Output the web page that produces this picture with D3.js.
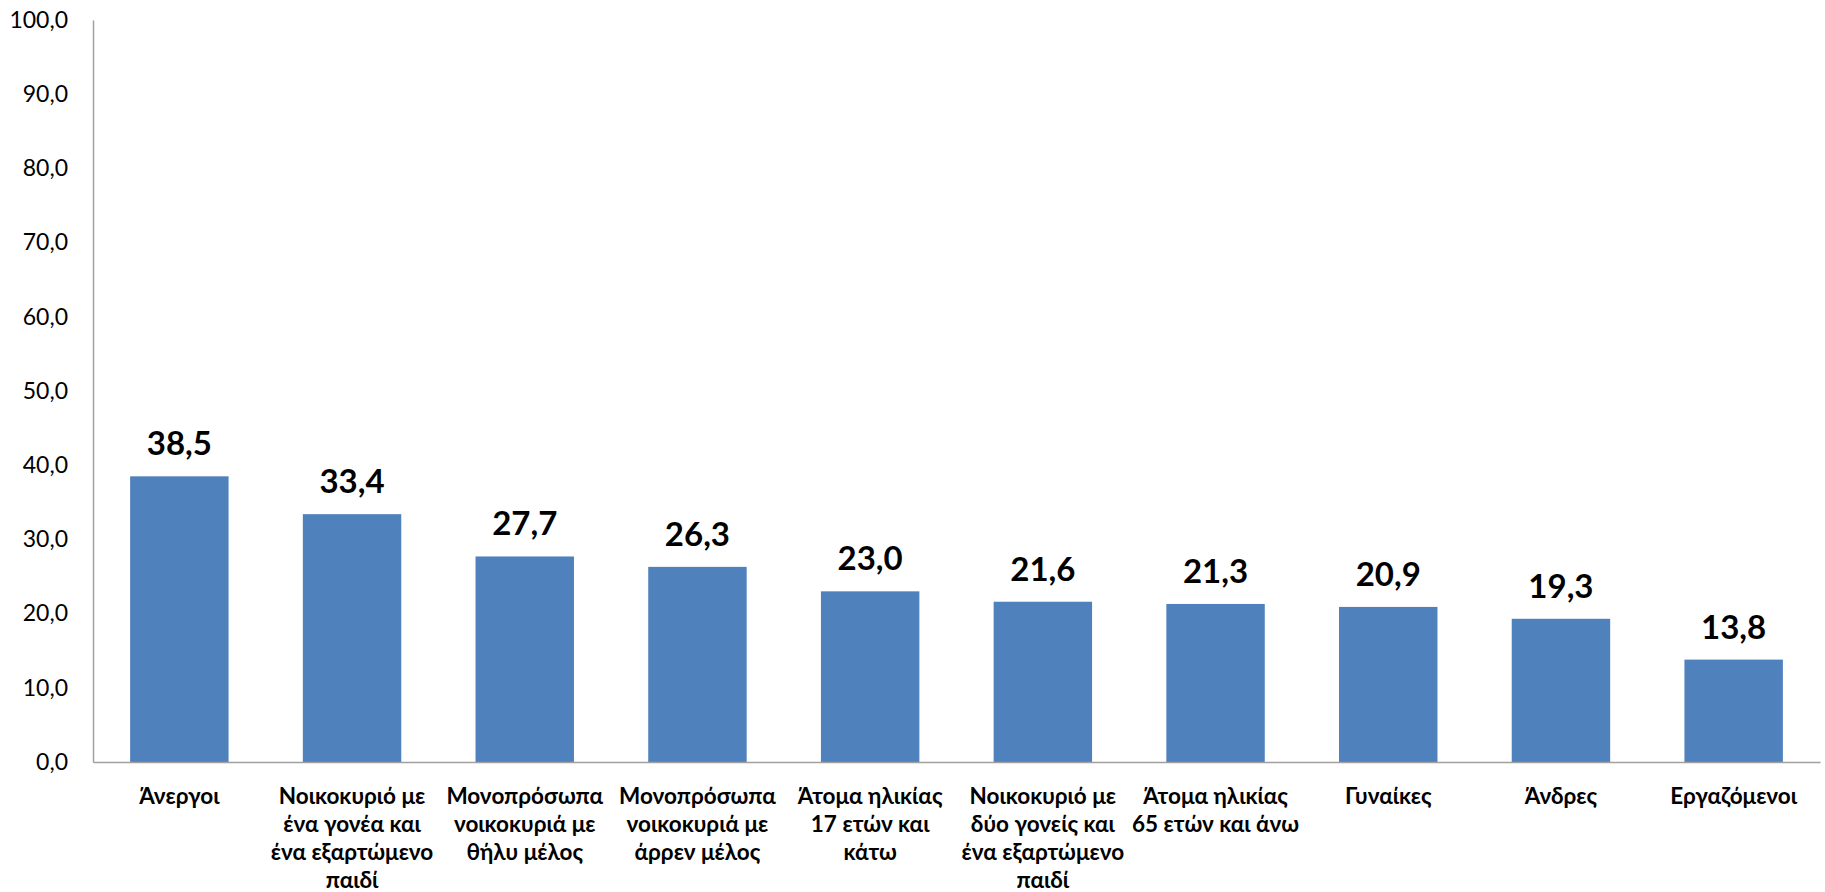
<!DOCTYPE html>
<html>
<head>
<meta charset="utf-8">
<script src="https://cdn.jsdelivr.net/npm/d3@7"></script>
<style>
  body { margin: 0; background: #fff; }
  svg { display: block; }
</style>
</head>
<body>
<svg id="chart" width="1825" height="892"></svg>
<script>
// categories (line breaks as in the original chart)
const categories = [
  "Άνεργοι",
  "Νοικοκυριό με\nένα γονέα και\nένα εξαρτώμενο\nπαιδί",
  "Μονοπρόσωπα\nνοικοκυριά με\nθήλυ μέλος",
  "Μονοπρόσωπα\nνοικοκυριά με\nάρρεν μέλος",
  "Άτομα ηλικίας\n17 ετών και\nκάτω",
  "Νοικοκυριό με\nδύο γονείς και\nένα εξαρτώμενο\nπαιδί",
  "Άτομα ηλικίας\n65 ετών και άνω",
  "Γυναίκες",
  "Άνδρες",
  "Εργαζόμενοι"
];
const values = [38.5, 33.4, 27.7, 26.3, 23.0, 21.6, 21.3, 20.9, 19.3, 13.8];
const yTicks = [0, 10, 20, 30, 40, 50, 60, 70, 80, 90, 100];

const fmt = d => d3.format(".1f")(d).replace(".", ",");

const svg = d3.select("#chart");
const m = { left: 93, right: 1820, top: 20, bottom: 762 };
const font = "Lato, 'Open Sans', sans-serif";

const x = d3.scaleBand()
    .domain(d3.range(categories.length))
    .range([m.left, m.right])
    .paddingInner(0.43)
    .paddingOuter(0.215);

const y = d3.scaleLinear()
    .domain([0, 100])
    .range([m.bottom, m.top]);

// y axis
const yAxis = svg.append("g")
    .attr("transform", `translate(${m.left},0)`)
    .call(d3.axisLeft(y).tickValues(yTicks).tickFormat(fmt).tickSize(0).tickPadding(25));
yAxis.select(".domain").attr("stroke", "#a0a0a0").attr("stroke-width", 1.5);
yAxis.selectAll("text")
    .style("font-family", font)
    .style("font-size", "23px")
    .attr("fill", "#000");

// bars
svg.append("g")
  .selectAll("rect")
  .data(values)
  .enter().append("rect")
    .attr("x", (d, i) => x(i))
    .attr("y", d => y(d))
    .attr("width", x.bandwidth())
    .attr("height", d => y(0) - y(d))
    .attr("fill", "#4f81bd");

// x axis
const xAxis = svg.append("g")
    .attr("transform", `translate(0,${m.bottom})`)
    .call(d3.axisBottom(x).tickSize(0).tickFormat(""));
xAxis.select(".domain").attr("stroke", "#a0a0a0").attr("stroke-width", 1.5);

// value labels
svg.append("g")
  .selectAll("text")
  .data(values)
  .enter().append("text")
    .attr("x", (d, i) => x(i) + x.bandwidth() / 2)
    .attr("y", d => y(d) - 21)
    .attr("text-anchor", "middle")
    .style("font-family", font)
    .style("font-weight", "bold")
    .style("font-size", "33px")
    .text(d => fmt(d));

// category labels
const cat = svg.append("g")
  .selectAll("text")
  .data(categories)
  .enter().append("text")
    .attr("x", (d, i) => x(i) + x.bandwidth() / 2)
    .attr("y", m.bottom + 42)
    .attr("text-anchor", "middle")
    .style("font-family", font)
    .style("font-weight", "bold")
    .style("font-size", "22.5px");

cat.each(function (d) {
  const t = d3.select(this);
  d.split("\n").forEach((line, k) => {
    t.append("tspan")
      .attr("x", t.attr("x"))
      .attr("dy", k === 0 ? 0 : 28)
      .text(line);
  });
});
</script>
</body>
</html>
